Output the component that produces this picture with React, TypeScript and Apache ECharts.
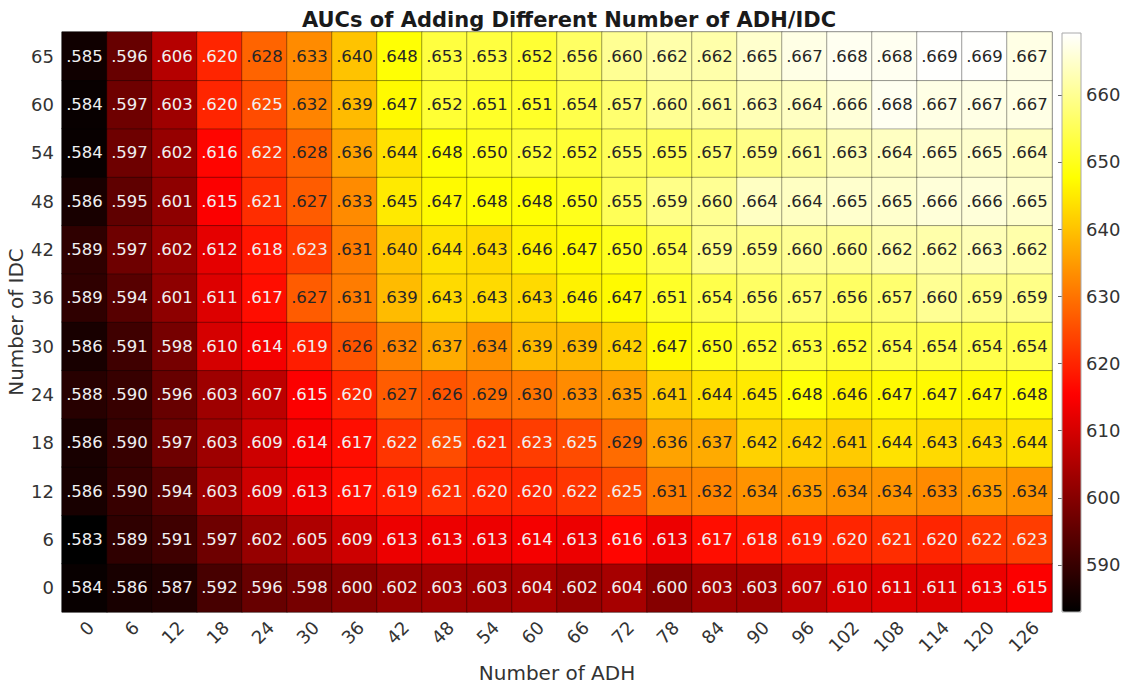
import React, { useEffect, useRef } from "react";
import * as echarts from "echarts";

const adhLabels = ["0","6","12","18","24","30","36","42","48","54","60","66","72","78","84","90","96","102","108","114","120","126"];
const idcLabels = ["0","6","12","18","24","30","36","42","48","54","60","65"];

// rows listed from IDC = 0 (bottom) to IDC = 65 (top)
const row0 = [.584,.586,.587,.592,.596,.598,.600,.602,.603,.603,.604,.602,.604,.600,.603,.603,.607,.610,.611,.611,.613,.615];
const row6 = [.583,.589,.591,.597,.602,.605,.609,.613,.613,.613,.614,.613,.616,.613,.617,.618,.619,.620,.621,.620,.622,.623];
const row12 = [.586,.590,.594,.603,.609,.613,.617,.619,.621,.620,.620,.622,.625,.631,.632,.634,.635,.634,.634,.633,.635,.634];
const row18 = [.586,.590,.597,.603,.609,.614,.617,.622,.625,.621,.623,.625,.629,.636,.637,.642,.642,.641,.644,.643,.643,.644];
const row24 = [.588,.590,.596,.603,.607,.615,.620,.627,.626,.629,.630,.633,.635,.641,.644,.645,.648,.646,.647,.647,.647,.648];
const row30 = [.586,.591,.598,.610,.614,.619,.626,.632,.637,.634,.639,.639,.642,.647,.650,.652,.653,.652,.654,.654,.654,.654];
const row36 = [.589,.594,.601,.611,.617,.627,.631,.639,.643,.643,.643,.646,.647,.651,.654,.656,.657,.656,.657,.660,.659,.659];
const row42 = [.589,.597,.602,.612,.618,.623,.631,.640,.644,.643,.646,.647,.650,.654,.659,.659,.660,.660,.662,.662,.663,.662];
const row48 = [.586,.595,.601,.615,.621,.627,.633,.645,.647,.648,.648,.650,.655,.659,.660,.664,.664,.665,.665,.666,.666,.665];
const row54 = [.584,.597,.602,.616,.622,.628,.636,.644,.648,.650,.652,.652,.655,.655,.657,.659,.661,.663,.664,.665,.665,.664];
const row60 = [.584,.597,.603,.620,.625,.632,.639,.647,.652,.651,.651,.654,.657,.660,.661,.663,.664,.666,.668,.667,.667,.667];
const row65 = [.585,.596,.606,.620,.628,.633,.640,.648,.653,.653,.652,.656,.660,.662,.662,.665,.667,.668,.668,.669,.669,.667];

const rows = [row0,row6,row12,row18,row24,row30,row36,row42,row48,row54,row60,row65];
const colorbarTicks = [590,600,610,620,630,640,650,660];
const colorMin = 583;
const colorMax = 669.2;

const hot = ["#000000","#550000","#aa0000","#ff0000","#ff5500","#ffaa00","#ffff00","#ffff80","#ffffff"];

export default function App() {
  const ref = useRef<HTMLDivElement>(null);
  useEffect(() => {
    document.body.style.margin = "0";
    if (!ref.current) return;
    const chart = echarts.init(ref.current, undefined, { renderer: "svg" });
    const data: any[] = [];
    rows.forEach((r, yi) => r.forEach((v, xi) => {
      data.push({
        value: [xi, yi, Math.round(v * 1000)],
        label: { color: v >= 0.626 ? "#262626" : "#f0f0f0" },
      });
    }));
    const font = "DejaVu Sans";
    chart.setOption({
      animation: false,
      backgroundColor: "#ffffff",
      textStyle: { fontFamily: font },
      title: {
        text: "AUCs of Adding Different Number of ADH/IDC",
        left: 564, top: 4, textAlign: "center",
        textStyle: { fontFamily: font, fontSize: 21, fontWeight: "bold", color: "#1a1a1a" },
      },
      grid: [
        { left: 62, top: 32, width: 990, height: 580, outerBoundsMode: "none", containLabel: false, show: true, borderColor: "#999999", borderWidth: 1, backgroundColor: "transparent" },
        { left: 1062, top: 33, width: 19, height: 579, outerBoundsMode: "none", containLabel: false, show: true, borderColor: "#aaaaaa", borderWidth: 1, z: 10, backgroundColor: "transparent" },
      ],
      xAxis: [
        {
          type: "category", data: adhLabels, gridIndex: 0,
          name: "Number of ADH", nameLocation: "middle", nameGap: 51,
          nameTextStyle: { fontSize: 20, color: "#333", fontFamily: font },
          axisLine: { show: false }, axisTick: { show: false },
          axisLabel: { rotate: 45, fontSize: 18, color: "#333", margin: 6, verticalAlign: "top", fontFamily: font },
          splitArea: { show: false },
        },
        { type: "value", gridIndex: 1, show: false, min: 0, max: 1 },
      ],
      yAxis: [
        {
          type: "category", data: idcLabels, gridIndex: 0,
          name: "Number of IDC", nameLocation: "middle", nameGap: 36, nameMoveOverlap: false,
          nameTextStyle: { fontSize: 20, color: "#333", fontFamily: font },
          axisLine: { show: false }, axisTick: { show: false },
          axisLabel: { fontSize: 18, color: "#333", margin: 8, fontFamily: font },
        },
        {
          type: "value", gridIndex: 1, position: "right", min: colorMin, max: colorMax,
          splitLine: { show: false },
          axisLine: { show: false },
          axisTick: { show: true, inside: true, length: 4, lineStyle: { color: "#666" }, customValues: colorbarTicks },
          axisLabel: { fontSize: 18, color: "#333", margin: 5, fontFamily: font, customValues: colorbarTicks },
        },
      ],
      visualMap: {
        type: "continuous", seriesIndex: 0, min: colorMin, max: colorMax,
        calculable: false, orient: "vertical", left: 1062, top: 33,
        itemWidth: 19, itemHeight: 579, padding: 0, text: ["", ""], showLabel: false,
        inRange: { color: hot },
        hoverLink: false,
      },
      series: [{
        type: "heatmap", xAxisIndex: 0, yAxisIndex: 0, data,
        itemStyle: { borderColor: "rgba(0,0,0,0.35)", borderWidth: 1 },
        label: {
          show: true, fontSize: 16.5, fontFamily: font,
          formatter: (p: any) => "." + String(p.value[2]).padStart(3, "0"),
        },
        emphasis: { disabled: true },
      }],
    });
    return () => chart.dispose();
  }, []);
  return <div ref={ref} style={{ width: 1125, height: 685 }} />;
}
